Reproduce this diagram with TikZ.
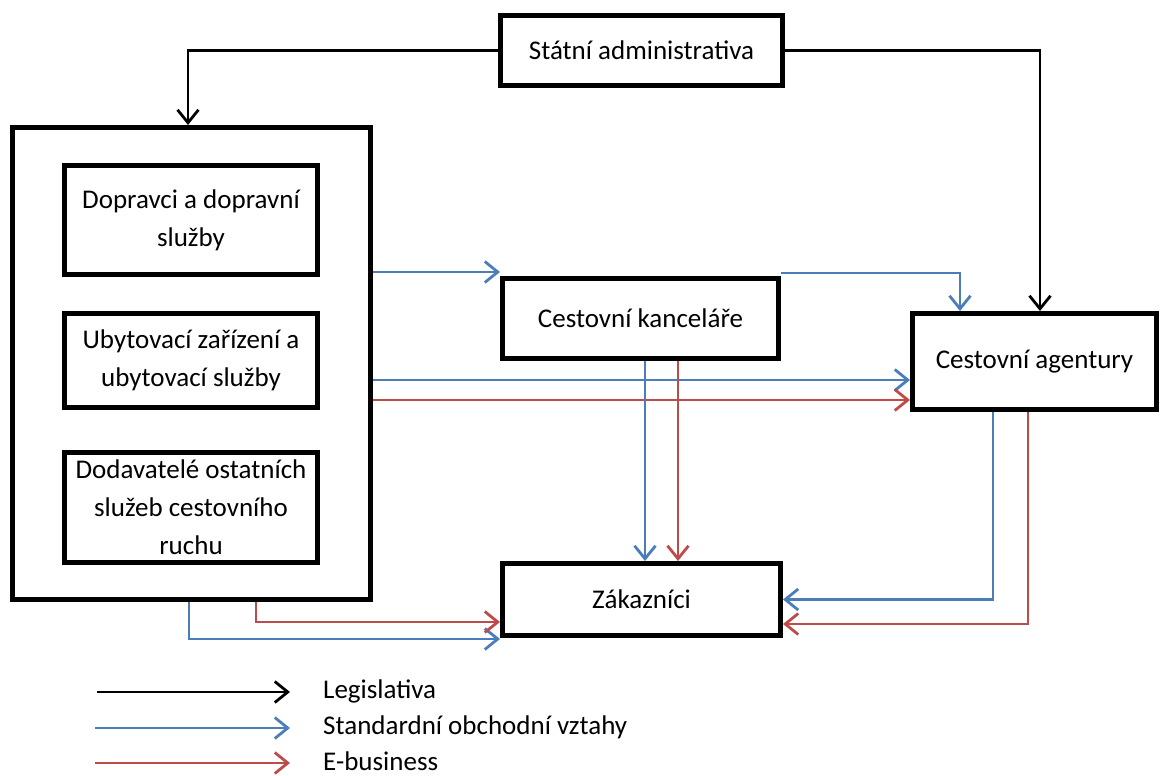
\documentclass[tikz,border=0pt]{standalone}
\usepackage{fontspec}
\setmainfont{Carlito}
\usetikzlibrary{arrows.meta}
\definecolor{stdblue}{RGB}{74,126,187}
\definecolor{ebred}{RGB}{190,75,72}

\begin{document}
\begin{tikzpicture}[x=1pt,y=-1pt,
  box/.style={draw,line width=5pt,inner sep=1pt,align=center,font=\fontsize{27}{38}\selectfont},
  conn/.style={line width=2.8pt,-{Straight Barb[length=13pt,width=21pt]}},
  legis/.style={conn,black},
  std/.style={conn,stdblue},
  ebus/.style={conn,ebred},
  legtext/.style={anchor=west,inner sep=0pt,font=\fontsize{27}{38}\selectfont}]
\useasboundingbox (0,0) rectangle (1160,776);

\node[box,minimum width=282pt,minimum height=70pt] (gov) at (641.5,50.5) {Státní administrativa};
\node[box,minimum width=358pt,minimum height=472pt] (prov) at (191.5,363.5) {};
\node[box,minimum width=253pt,minimum height=109pt] (d1) at (191,220) {Dopravci a dopravní\\služby};
\node[box,minimum width=253pt,minimum height=94pt] (d2) at (191,360.5) {Ubytovací zařízení a\\ubytovací služby};
\node[box,minimum width=253pt,minimum height=110pt] (d3) at (191,507.5) {Dodavatelé ostatních\\služeb cestovního\\ruchu};
\node[box,minimum width=276pt,minimum height=80pt] (ck) at (640.5,318.5) {Cestovní kanceláře};
\node[box,minimum width=244pt,minimum height=96pt] (ca) at (1034.5,361.5) {Cestovní agentury};
\node[box,minimum width=278pt,minimum height=72pt] (zak) at (641.5,599.5) {Zákazníci};

% legislativa
\draw[legis] (gov.west) -| ([xshift=178pt]prov.north west);
\draw[legis] (gov.east) -| ([xshift=130pt]ca.north west);

% dodavatele -> kancelare, agentury
\coordinate (k0) at ([yshift=4pt]ck.north west);
\draw[std] (prov.east |- k0) -- (k0);
\draw[std] ([yshift=3pt]ck.north east) -| ([xshift=50pt]ca.north west);
\coordinate (a1) at ([yshift=-18.5pt]ca.west);
\coordinate (a2) at ([yshift=-38.5pt]ca.west);
\draw[std] (prov.east |- a1) -- (a1);
\draw[ebus] (prov.east |- a2) -- (a2);

% -> zakaznici
\coordinate (k1) at ([xshift=4.5pt]ck.south);
\coordinate (k2) at ([xshift=37.5pt]ck.south);
\draw[std] (k1) -- (k1 |- zak.north);
\draw[ebus] (k2) -- (k2 |- zak.north);
\draw[std] ([xshift=-41.5pt]ca.south) |- (zak.east);
\draw[ebus] ([xshift=-6.5pt]ca.south) |- ([yshift=-24.5pt]zak.east);
\draw[std] ([xshift=-2.5pt]prov.south) |- ([yshift=-39.5pt]zak.west);
\draw[ebus] ([xshift=64.5pt]prov.south) |- ([yshift=-22.5pt]zak.west);

% legenda
\node[legtext] (lg1) at (323,691) {Legislativa};
\node[legtext] (lg2) at (323,727) {Standardní obchodní vztahy};
\node[legtext] (lg3) at (323,761) {E-business};
\coordinate (g1) at (97,692);
\coordinate (g2) at (95,728);
\coordinate (g3) at (95,763);
\draw[legis] (g1) -- ([xshift=-33pt]g1 -| lg1.west);
\draw[std] (g2) -- ([xshift=-33pt]g2 -| lg2.west);
\draw[ebus] (g3) -- ([xshift=-33pt]g3 -| lg3.west);
\end{tikzpicture}
\end{document}
